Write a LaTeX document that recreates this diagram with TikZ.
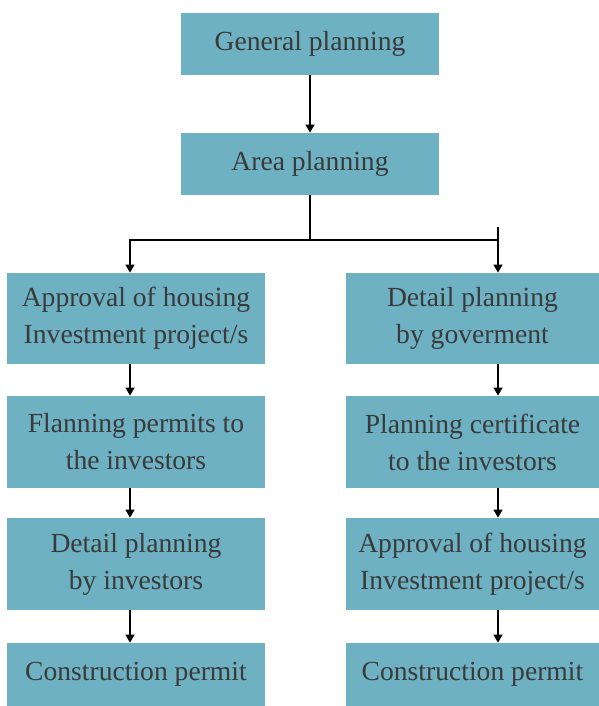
\documentclass[tikz,border=0pt]{standalone}
\usepackage{fontspec}
\newfontfamily\boxfont{Liberation Serif}
\usetikzlibrary{arrows.meta}

\definecolor{boxteal}{RGB}{109,177,194}
\definecolor{boxtext}{RGB}{58,58,58}

\begin{document}
\begin{tikzpicture}[x=0.5pt,y=-0.5pt,
    box/.style={fill=boxteal, text=boxtext, align=center, inner sep=0pt,
      font=\boxfont\fontsize{13.8}{18.5}\selectfont},
    arr/.style={line width=0.7pt, -{Triangle[width=4.5pt,length=4pt]}}]

        \useasboundingbox (0,0) rectangle (599,706);

        % top
        \node [box, minimum width=129pt, minimum height=31pt] (gen) at (310,44) {General planning};
        \node [box, minimum width=129pt, minimum height=31pt] (area) at (310,164) {Area planning};

        % left column
        \node [box, minimum width=129pt, minimum height=45.5pt] (l1) at (136,318.5) {Approval of housing\\Investment project/s};
        \node [box, minimum width=129pt, minimum height=46pt] (l2) at (136,442) {Flanning permits to\\the investors};
        \node [box, minimum width=129pt, minimum height=46pt] (l3) at (136,564) {Detail planning\\by investors};
        \node [box, minimum width=129pt, minimum height=31.5pt] (l4) at (136,674.5) {Construction permit};

        % right column
        \node [box, minimum width=126.5pt, minimum height=45.5pt] (r1) at (472.5,318.5) {Detail planning\\by goverment};
        \node [box, minimum width=126.5pt, minimum height=46pt] (r2) at (472.5,442) {Planning certificate\\to the investors};
        \node [box, minimum width=126.5pt, minimum height=46pt] (r3) at (472.5,564) {Approval of housing\\Investment project/s};
        \node [box, minimum width=126.5pt, minimum height=31.5pt] (r4) at (472.5,674.5) {Construction permit};

        \coordinate (lcol) at (130,0);
        \coordinate (rcol) at (498,0);
        \coordinate (split) at (310,240);
        \coordinate (rtop) at (498,227);

        \draw[arr] (gen) -- (area);
        \draw[line width=0.7pt] (area.south) -- (split);
        \draw[arr] (split) -| (l1.north -| lcol);
        \draw[line width=0.7pt] (split) -- (split -| rcol);
        \draw[arr] (rtop) -- (r1.north -| rcol);

        \draw[arr] (l1.south -| lcol) -- (l2.north -| lcol);
        \draw[arr] (l2.south -| lcol) -- (l3.north -| lcol);
        \draw[arr] (l3.south -| lcol) -- (l4.north -| lcol);

        \draw[arr] (r1.south -| rcol) -- (r2.north -| rcol);
        \draw[arr] (r2.south -| rcol) -- (r3.north -| rcol);
        \draw[arr] (r3.south -| rcol) -- (r4.north -| rcol);

      \end{tikzpicture}
\end{document}
